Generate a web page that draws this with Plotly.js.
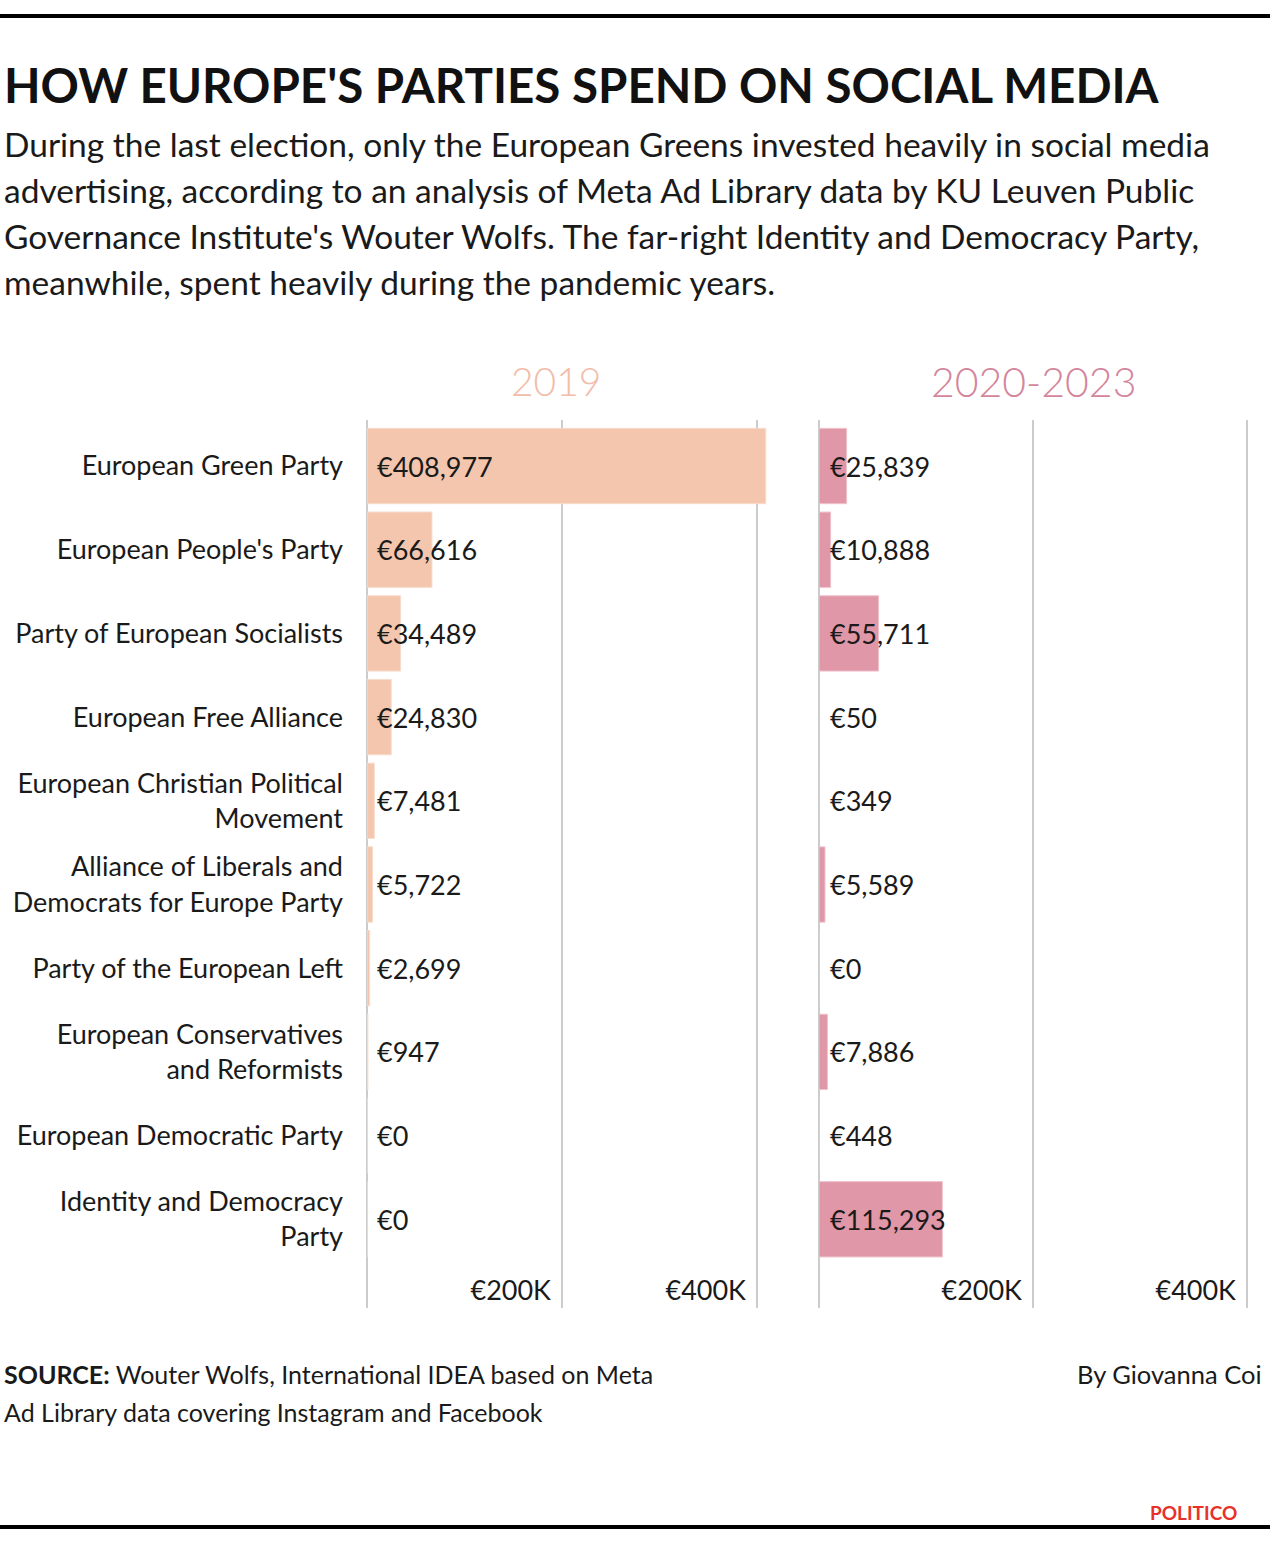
<!DOCTYPE html>
<html>
<head>
<meta charset="utf-8">
<script src="https://cdn.plot.ly/plotly-3.0.1.min.js"></script>
<style>html,body{margin:0;padding:0;background:#fff;}#chart{width:1270px;height:1542px;}</style>
</head>
<body>
<div id="chart"></div>
<script>
// ---- data ----
const parties = [
  "European Green Party",
  "European People's Party",
  "Party of European Socialists",
  "European Free Alliance",
  "European Christian Political Movement",
  "Alliance of Liberals and Democrats for Europe Party",
  "Party of the European Left",
  "European Conservatives and Reformists",
  "European Democratic Party",
  "Identity and Democracy Party"
];
const partyLabels = [
  "European Green Party",
  "European People's Party",
  "Party of European Socialists",
  "European Free Alliance",
  "European Christian Political<br>Movement",
  "Alliance of Liberals and<br>Democrats for Europe Party",
  "Party of the European Left",
  "European Conservatives<br>and Reformists",
  "European Democratic Party",
  "Identity and Democracy<br>Party"
];
const spend2019 = [408977, 66616, 34489, 24830, 7481, 5722, 2699, 947, 0, 0];
const spend2020_2023 = [25839, 10888, 55711, 50, 349, 5589, 0, 7886, 448, 115293];
const xTickVals = [0, 200000, 400000];
const xTickText = ["", "€200K", "€400K"];
const panelTitles = ["2019", "2020-2023"];

// ---- helpers ----
const W = 1270, H = 1542;
const px = x => x / W;
const py = y => 1 - y / H;
const FONT = "Lato, 'Open Sans', sans-serif";
const TXT = "#1a1a1a";
const fmt = v => "€" + v.toLocaleString("en-US");

const c2019 = "#f4c6ae", c2020 = "#e097a7";

const traces = [
  {
    type: "bar", orientation: "h", x: spend2019, y: parties,
    xaxis: "x", yaxis: "y",
    marker: {color: c2019, line: {color: "#f8dbcc", width: 1}},
    hoverinfo: "skip"
  },
  {
    type: "bar", orientation: "h", x: spend2020_2023, y: parties,
    xaxis: "x2", yaxis: "y2",
    marker: {color: c2020, line: {color: "#efc3cd", width: 1}},
    hoverinfo: "skip"
  }
];

const yRange = [10.06, -0.55];
const xCommon = {
  tickvals: xTickVals, ticktext: xTickText,
  showgrid: true, gridcolor: "#cccccc", gridwidth: 2,
  zeroline: true, zerolinecolor: "#cccccc", zerolinewidth: 2,
  showline: false, ticks: "",
  ticklabelposition: "inside left",
  ticklabelshift: -11,
  ticklabelstandoff: -3,
  tickfont: {family: FONT, size: 27, color: TXT},
  fixedrange: true
};

const annotations = [];
spend2019.forEach((v, i) => annotations.push({
  x: 0, y: parties[i], xref: "x", yref: "y", xanchor: "left", yanchor: "middle",
  xshift: 8, text: fmt(v), showarrow: false,
  font: {family: FONT, size: 27, color: TXT}
}));
spend2020_2023.forEach((v, i) => annotations.push({
  x: 0, y: parties[i], xref: "x2", yref: "y2", xanchor: "left", yanchor: "middle",
  xshift: 9, text: fmt(v), showarrow: false,
  font: {family: FONT, size: 27, color: TXT}
}));

// panel titles
annotations.push({x: px(556), y: py(381), xref: "paper", yref: "paper", xanchor: "center", yanchor: "middle",
  text: panelTitles[0], showarrow: false, font: {family: FONT, size: 39, color: "#f2bca9", weight: 300}});
annotations.push({x: px(1033), y: py(381), xref: "paper", yref: "paper", xanchor: "center", yanchor: "middle",
  text: panelTitles[1], showarrow: false, font: {family: FONT, size: 41, color: "#d4859b", weight: 300}});

// title & subtitle
annotations.push({x: px(2), y: py(84), xref: "paper", yref: "paper", xanchor: "left", yanchor: "middle",
  text: "<b>HOW EUROPE'S PARTIES SPEND ON SOCIAL MEDIA</b>", showarrow: false,
  font: {family: FONT, size: 47.5, color: "#111"}});
const subLines = [
  "During the last election, only the European Greens invested heavily in social media",
  "advertising, according to an analysis of Meta Ad Library data by KU Leuven Public",
  "Governance Institute's Wouter Wolfs. The far-right Identity and Democracy Party,",
  "meanwhile, spent heavily during the pandemic years."
];
subLines.forEach((t, i) => annotations.push({x: px(2), y: py(144 + 46 * i), xref: "paper", yref: "paper",
  xanchor: "left", yanchor: "middle", text: t, showarrow: false,
  font: {family: FONT, size: 33.5, color: TXT}}));

// footer
annotations.push({x: px(2), y: py(1374), xref: "paper", yref: "paper", xanchor: "left", yanchor: "middle",
  text: "<b>SOURCE:</b> Wouter Wolfs, International IDEA based on Meta", showarrow: false,
  font: {family: FONT, size: 25, color: TXT}});
annotations.push({x: px(2), y: py(1412), xref: "paper", yref: "paper", xanchor: "left", yanchor: "middle",
  text: "Ad Library data covering Instagram and Facebook", showarrow: false,
  font: {family: FONT, size: 25, color: TXT}});
annotations.push({x: px(1264), y: py(1374), xref: "paper", yref: "paper", xanchor: "right", yanchor: "middle",
  text: "By Giovanna Coi", showarrow: false,
  font: {family: FONT, size: 25.5, color: TXT}});
annotations.push({x: px(1239), y: py(1512), xref: "paper", yref: "paper", xanchor: "right", yanchor: "middle",
  text: "<b>POLITICO</b>", showarrow: false,
  font: {family: FONT, size: 19, color: "#e8312a"}});

const layout = {
  width: W, height: H,
  margin: {l: 0, r: 0, t: 0, b: 0},
  paper_bgcolor: "#fff", plot_bgcolor: "rgba(0,0,0,0)",
  showlegend: false,
  bargap: 0.1,
  font: {family: FONT, color: TXT},
  xaxis: Object.assign({}, xCommon, {domain: [px(367), px(776.5)], anchor: "y",
    range: [0, 400000 * (776.5 - 367) / (757 - 367)]}),
  xaxis2: Object.assign({}, xCommon, {domain: [px(819), px(1268.4)], anchor: "y2",
    range: [0, 400000 * (1268.4 - 819) / (1247 - 819)]}),
  yaxis: {
    domain: [py(1308), py(420)], anchor: "x",
    type: "category", categoryorder: "array", categoryarray: parties,
    range: yRange, tickvals: parties, ticktext: partyLabels,
    showgrid: false, zeroline: false, showline: false, ticks: "",
    ticklabelstandoff: 23,
    tickfont: {family: FONT, size: 27, color: TXT}, fixedrange: true
  },
  yaxis2: {
    domain: [py(1308), py(420)], anchor: "x2",
    type: "category", categoryorder: "array", categoryarray: parties,
    range: yRange, showticklabels: false,
    showgrid: false, zeroline: false, showline: false, ticks: "", fixedrange: true
  },
  annotations: annotations,
  shapes: [
    {type: "line", xref: "paper", yref: "paper", x0: 0, x1: 1, y0: py(16), y1: py(16), line: {color: "#000", width: 4}},
    {type: "line", xref: "paper", yref: "paper", x0: 0, x1: 1, y0: py(1527), y1: py(1527), line: {color: "#000", width: 4}}
  ]
};

Plotly.newPlot("chart", traces, layout, {displayModeBar: false, staticPlot: true});
</script>
</body>
</html>
